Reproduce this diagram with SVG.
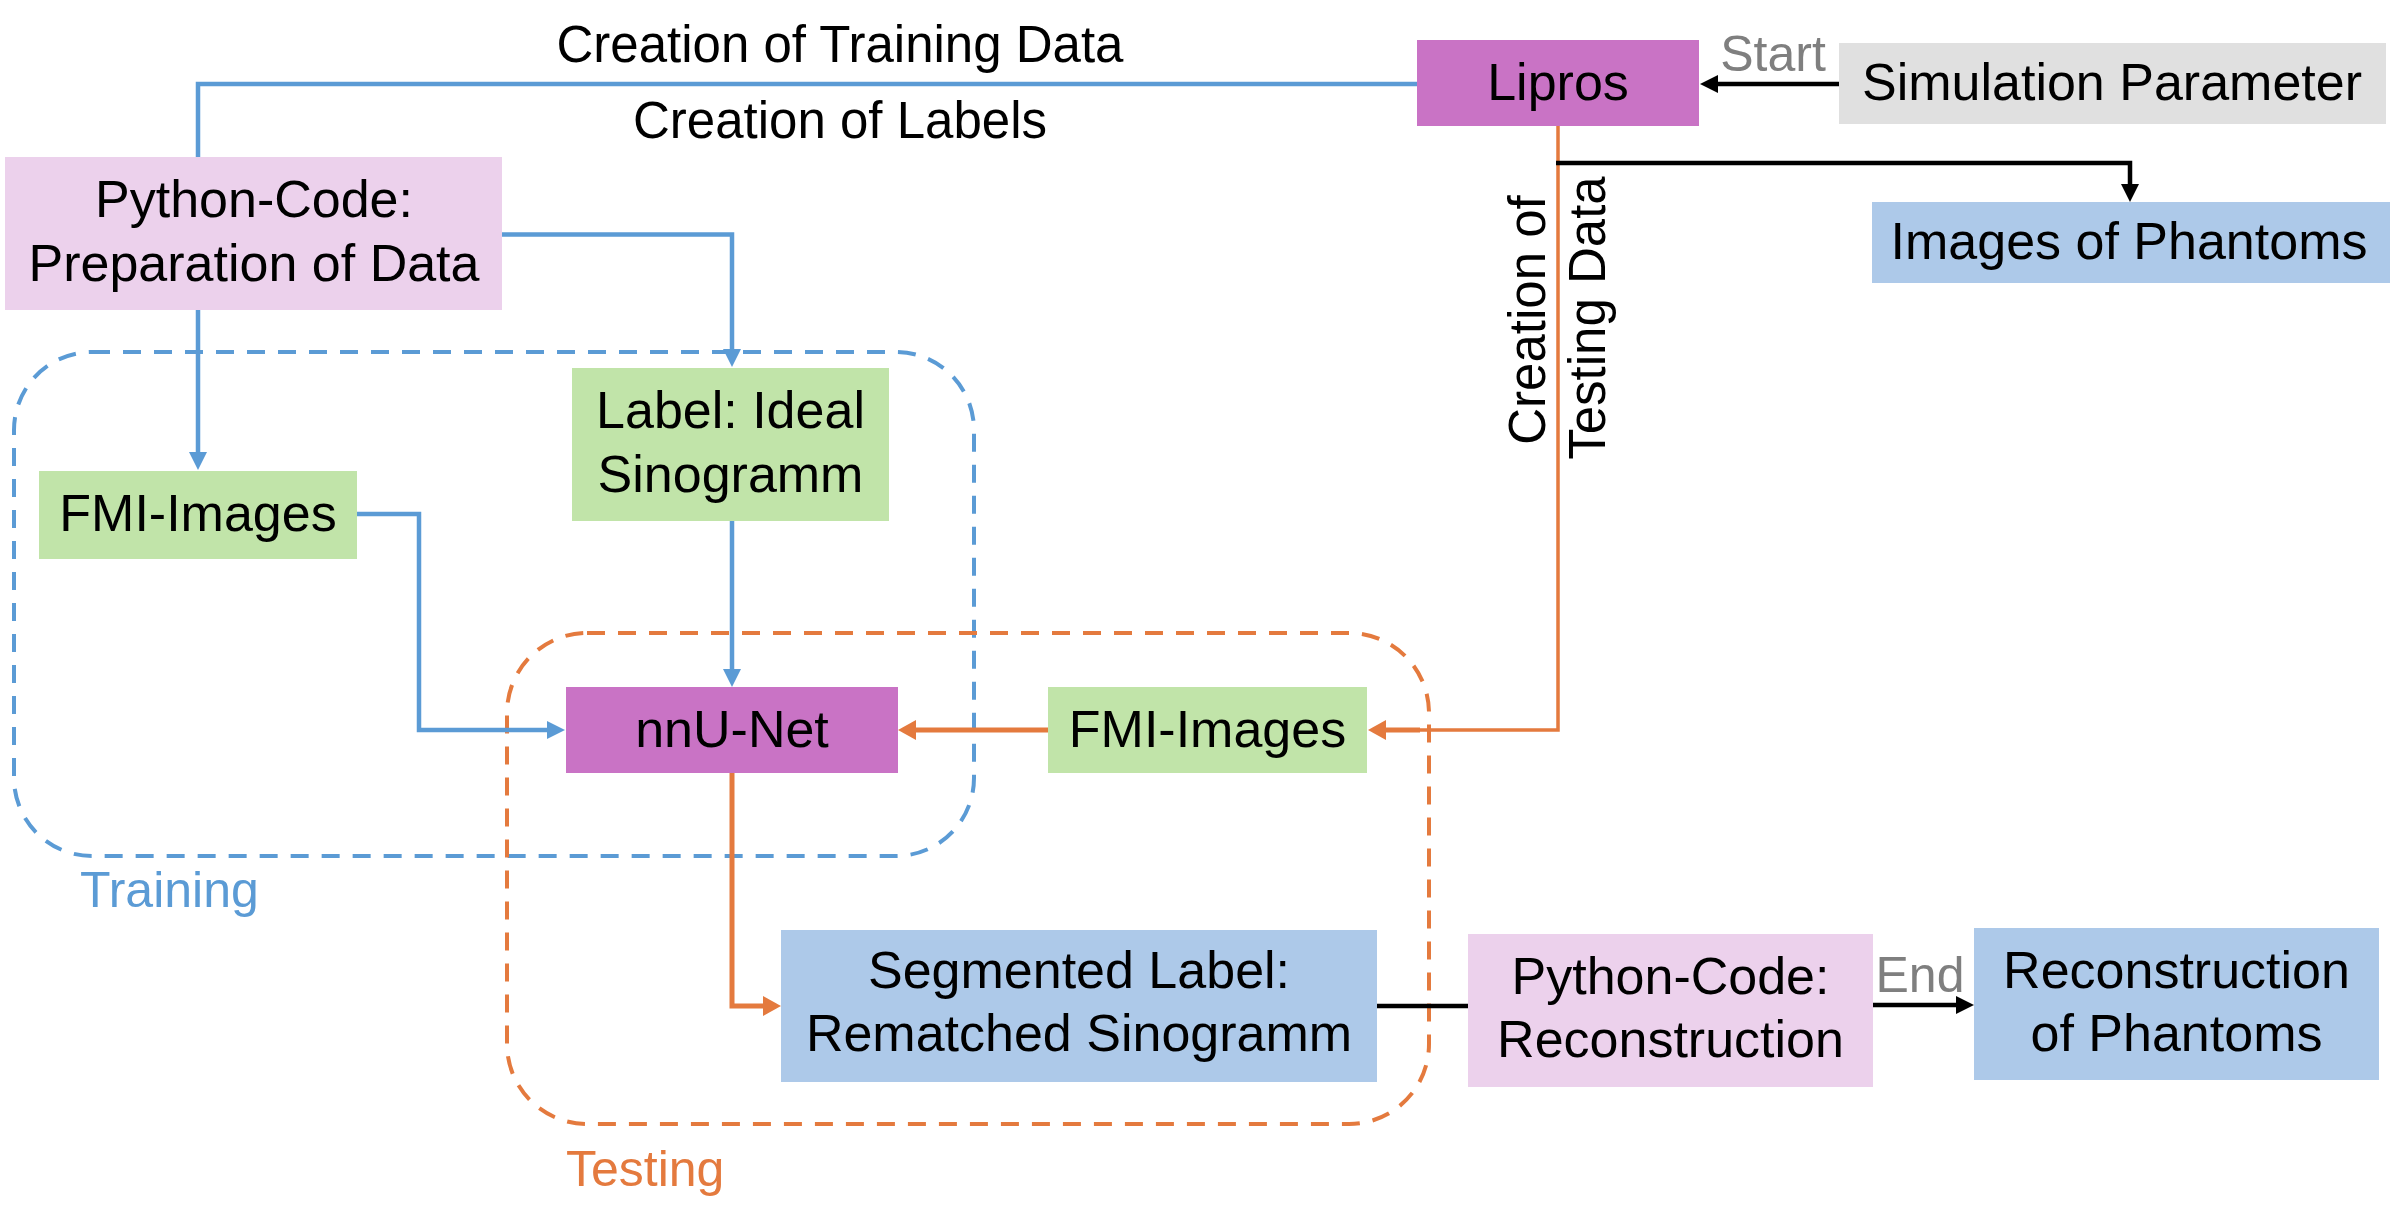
<svg xmlns="http://www.w3.org/2000/svg" width="2398" height="1218" viewBox="0 0 2398 1218">
<style>
text{font-family:"Liberation Sans",Arial,sans-serif;font-size:52px;fill:#000;text-anchor:middle}
.lbl{font-size:51px}
.sm{font-size:50px}
.pink{fill:#ECD1EC}.mag{fill:#C973C5}.green{fill:#C1E4A9}.lblue{fill:#ADC9E9}.gray{fill:#E0E0E0}
.gt{fill:#7F7F7F}
.b{fill:none;stroke:#5B9BD5;stroke-width:4.5}
.o{fill:none;stroke:#E47A3E;stroke-width:5}
.k{fill:none;stroke:#000;stroke-width:4.5}
.dash{fill:none;stroke-width:4;stroke-dasharray:18 13}
</style>
<defs>
<marker id="ab" viewBox="0 0 18 18" refX="8" refY="9" markerWidth="18" markerHeight="18" markerUnits="userSpaceOnUse" orient="auto"><path d="M0,0L18,9L0,18z" fill="#5B9BD5"/></marker>
<marker id="ao" viewBox="0 0 18 20" refX="8" refY="10" markerWidth="18" markerHeight="20" markerUnits="userSpaceOnUse" orient="auto"><path d="M0,0L18,10L0,20z" fill="#E47A3E"/></marker>
<marker id="ak" viewBox="0 0 18 18" refX="8" refY="9" markerWidth="18" markerHeight="18" markerUnits="userSpaceOnUse" orient="auto"><path d="M0,0L18,9L0,18z" fill="#000"/></marker>
</defs>
<g id="groups">
<rect x="14" y="352" width="960" height="504" rx="78" class="dash" stroke="#5B9BD5"/>
<rect x="507" y="633" width="922" height="491" rx="80" class="dash" stroke="#E47A3E"/>
<text x="80" y="907" class="sm" style="text-anchor:start;fill:#5B9BD5">Training</text>
<text x="566" y="1186" class="sm" style="text-anchor:start;fill:#E47A3E">Testing</text>
</g>
<g id="connectors">
<path class="b" d="M1417,84H198V157"/>
<path class="b" d="M502,234.5H732V357" marker-end="url(#ab)"/>
<path class="b" d="M198,310V460" marker-end="url(#ab)"/>
<path class="b" d="M357,514H419V730H555" marker-end="url(#ab)"/>
<path class="b" d="M732,521V677" marker-end="url(#ab)"/>
<path class="o" style="stroke-width:3.5" d="M1558,126V730H1420"/>
<path class="o" d="M1420,730H1378" marker-end="url(#ao)"/>
<path class="o" d="M1048,730H908" marker-end="url(#ao)"/>
<path class="o" d="M732,773V1006H771" marker-end="url(#ao)"/>
<path class="k" d="M1839,84H1710" marker-end="url(#ak)"/>
<path class="k" d="M1556,163H2130V192" marker-end="url(#ak)"/>
<path class="k" d="M1377,1006H1468"/>
<path class="k" d="M1873,1005H1964" marker-end="url(#ak)"/>
<text x="840" y="62" class="lbl">Creation of Training Data</text>
<text x="840" y="138" class="lbl">Creation of Labels</text>
<text x="1773" y="71" class="gt sm">Start</text>
<text x="1920" y="992" class="gt sm">End</text>
<text transform="translate(1545,320) rotate(-90)" class="lbl">Creation of</text>
<text transform="translate(1605,318) rotate(-90)" class="lbl">Testing Data</text>
</g>
<g id="prep"><rect x="5" y="157" width="497" height="153" class="pink"/><text x="254" y="217">Python-Code:</text><text x="254" y="281">Preparation of Data</text></g>
<g id="lipros"><rect x="1417" y="40" width="282" height="86" class="mag"/><text x="1558" y="100">Lipros</text></g>
<g id="simparam"><rect x="1839" y="43" width="547" height="81" class="gray"/><text x="2112" y="100">Simulation Parameter</text></g>
<g id="imgphantoms"><rect x="1872" y="202" width="518" height="81" class="lblue"/><text x="2129" y="259">Images of Phantoms</text></g>
<g id="label"><rect x="572" y="368" width="317" height="153" class="green"/><text x="730.5" y="428">Label: Ideal</text><text x="730.5" y="492">Sinogramm</text></g>
<g id="fmi1"><rect x="39" y="471" width="318" height="88" class="green"/><text x="198" y="531">FMI-Images</text></g>
<g id="nnunet"><rect x="566" y="687" width="332" height="86" class="mag"/><text x="732" y="747">nnU-Net</text></g>
<g id="fmi2"><rect x="1048" y="687" width="319" height="86" class="green"/><text x="1207.5" y="747">FMI-Images</text></g>
<g id="segmented"><rect x="781" y="930" width="596" height="152" class="lblue"/><text x="1079" y="988">Segmented Label:</text><text x="1079" y="1051">Rematched Sinogramm</text></g>
<g id="recon"><rect x="1468" y="934" width="405" height="153" class="pink"/><text x="1670.5" y="994">Python-Code:</text><text x="1670.5" y="1057">Reconstruction</text></g>
<g id="reconph"><rect x="1974" y="928" width="405" height="152" class="lblue"/><text x="2176.5" y="988">Reconstruction</text><text x="2176.5" y="1051">of Phantoms</text></g>
</svg>
